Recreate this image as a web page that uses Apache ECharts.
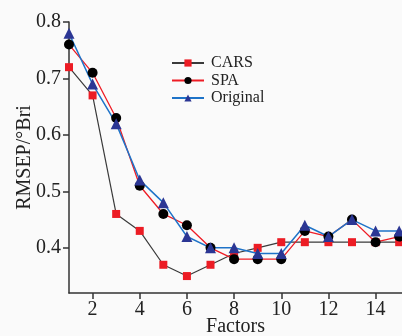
<!DOCTYPE html>
<html>
<head>
<meta charset="utf-8">
<script src="https://cdn.jsdelivr.net/npm/echarts@6/dist/echarts.min.js"></script>
<style>
html,body{margin:0;padding:0;background:#fafafa;}
#chart{width:402px;height:336px;}
</style>
</head>
<body>
<div id="chart"></div>
<script>
// factor counts and RMSEP values
var factors = [1,2,3,4,5,6,7,8,9,10,11,12,13,14,15];
var cars = [0.72,0.67,0.46,0.43,0.37,0.35,0.37,0.39,0.40,0.41,0.41,0.41,0.41,0.41,0.41];
var spa = [0.76,0.71,0.63,0.51,0.46,0.44,0.40,0.38,0.38,0.38,0.43,0.42,0.45,0.41,0.42];
var original = [0.78,0.69,0.62,0.52,0.48,0.42,0.40,0.40,0.39,0.39,0.44,0.42,0.45,0.43,0.43];
var xTicks = [2,4,6,8,10,12,14];
var yTicks = [0.4,0.5,0.6,0.7,0.8];

function pairs(vals){
	var out = [];
	for(var i=0;i<factors.length;i++){ out.push([factors[i], vals[i]]); }
	return out;
}

var serif = 'Liberation Serif';
var myChart = echarts.init(document.getElementById('chart'));
var option = {
	backgroundColor: '#fafafa',
	animation: false,
	grid: { left: 69, top: 22, right: 0, bottom: 43, containLabel: false, outerBoundsMode: 'none' },
	legend: {
		orient: 'vertical',
		left: 171, top: 55, padding: 0,
		itemWidth: 32, itemHeight: 9, itemGap: 1.5,
		textStyle: { fontFamily: serif, fontSize: 16, lineHeight: 16, color: '#222', padding: [0,0,0,2] },
		data: ['CARS','SPA','Original']
	},
	xAxis: {
		type: 'value', min: 1, max: 15.12,
		name: 'Factors', nameLocation: 'middle', nameGap: 24, nameMoveOverlap: false,
		nameTextStyle: { fontFamily: serif, fontSize: 20, color: '#222' },
		axisLine: { lineStyle: { color: '#333', width: 1.5 } },
		axisTick: { customValues: xTicks, length: 6, lineStyle: { color: '#333', width: 1.5 } },
		axisLabel: { customValues: xTicks, margin: 7, fontFamily: serif, fontSize: 20, color: '#222' },
		splitLine: { show: false }
	},
	yAxis: {
		type: 'value', min: 0.32, max: 0.8,
		name: 'RMSEP/°Bri', nameLocation: 'middle', nameGap: 34, nameMoveOverlap: false,
		nameTextStyle: { fontFamily: serif, fontSize: 20, color: '#222' },
		axisLine: { show: true, lineStyle: { color: '#333', width: 1.5 } },
		axisTick: { show: true, customValues: yTicks, length: 6, lineStyle: { color: '#333', width: 1.5 } },
		axisLabel: { customValues: yTicks, margin: 8, fontFamily: serif, fontSize: 20, color: '#222' },
		splitLine: { show: false }
	},
	series: [
		{
			name: 'CARS', type: 'line', data: pairs(cars),
			symbol: 'rect', symbolSize: 8,
			lineStyle: { color: '#3a3a3a', width: 1.2 },
			itemStyle: { color: '#ec1c24' }
		},
		{
			name: 'SPA', type: 'line', data: pairs(spa),
			symbol: 'circle', symbolSize: 10,
			lineStyle: { color: '#ee1c25', width: 1.3 },
			itemStyle: { color: '#000' }
		},
		{
			name: 'Original', type: 'line', data: pairs(original),
			symbol: 'triangle', symbolSize: 11,
			lineStyle: { color: '#1e73c8', width: 1.5 },
			itemStyle: { color: '#2b3694' }
		}
	]
};
myChart.setOption(option);
</script>
</body>
</html>
